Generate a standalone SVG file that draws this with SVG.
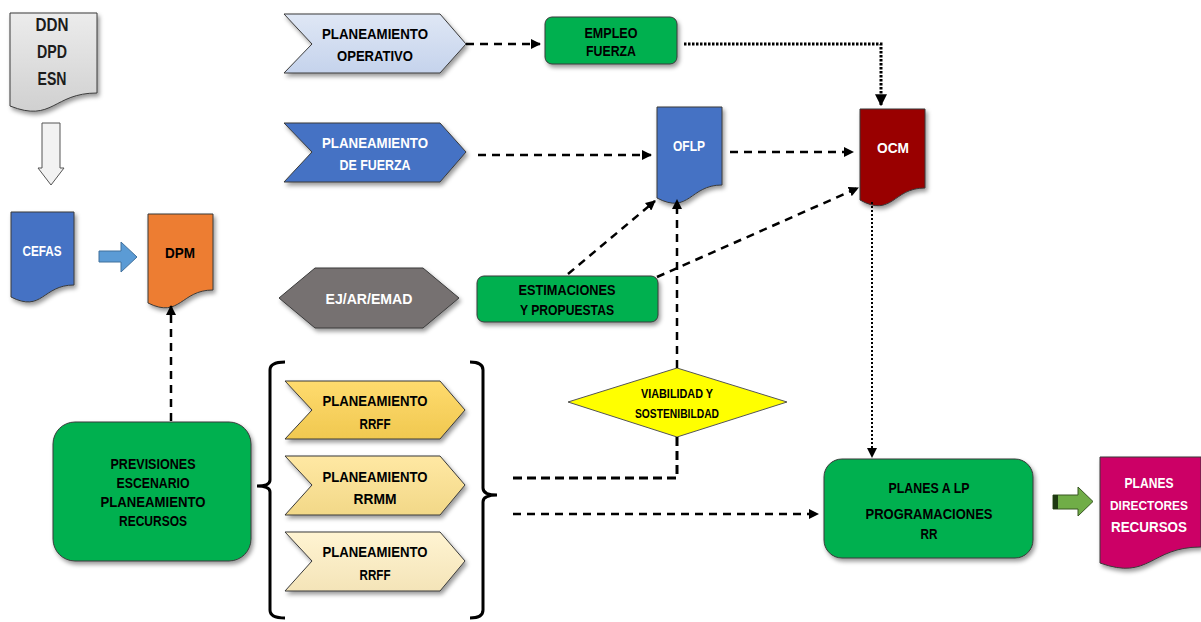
<svg xmlns="http://www.w3.org/2000/svg" width="1201" height="622" viewBox="0 0 1201 622">
<defs>
<filter id="sh" x="-15%" y="-15%" width="135%" height="140%"><feDropShadow dx="2" dy="3" stdDeviation="2" flood-color="#000" flood-opacity="0.4"/></filter>
<marker id="ah" viewBox="0 0 10 10" refX="9" refY="5" markerWidth="4" markerHeight="4" orient="auto" markerUnits="strokeWidth"><path d="M0,0 L10,5 L0,10 z" fill="#000"/></marker>
<marker id="ahs" viewBox="0 0 10 10" refX="9" refY="5" markerWidth="5" markerHeight="5" orient="auto" markerUnits="strokeWidth"><path d="M0,0 L10,5 L0,10 z" fill="#000"/></marker>
<linearGradient id="gGrey" x1="0" y1="0" x2="0" y2="1"><stop offset="0" stop-color="#ececec"/><stop offset="1" stop-color="#d0d0d0"/></linearGradient>
<linearGradient id="gOp" x1="0" y1="0" x2="0" y2="1"><stop offset="0" stop-color="#dfe7f5"/><stop offset="1" stop-color="#c5d3ec"/></linearGradient>
<linearGradient id="g1" x1="0" y1="0" x2="0" y2="1"><stop offset="0" stop-color="#ffdb6e"/><stop offset="1" stop-color="#f0c850"/></linearGradient>
<linearGradient id="g2" x1="0" y1="0" x2="0" y2="1"><stop offset="0" stop-color="#ffe8a3"/><stop offset="1" stop-color="#f2d888"/></linearGradient>
<linearGradient id="g3" x1="0" y1="0" x2="0" y2="1"><stop offset="0" stop-color="#fff4d2"/><stop offset="1" stop-color="#f4e4b8"/></linearGradient>
</defs>
<style>
text{font-family:"Liberation Sans",Arial,sans-serif;font-weight:bold;font-size:15.5px;text-anchor:middle}
.w{fill:#fff}
.k{fill:#000}
.sh{filter:url(#sh)}
.ol{stroke:#3a3a3a;stroke-width:1}
.dash{fill:none;stroke:#000;stroke-width:2.5;stroke-dasharray:8 6}
.dot{fill:none;stroke:#000;stroke-width:3;stroke-dasharray:2.5 1.5}
.dot2{fill:none;stroke:#000;stroke-width:2;stroke-dasharray:2 2}
.green{fill:#00b050}
.blue{fill:#4472c4}
</style>

<g id="ddn">
<path class="sh ol" fill="url(#gGrey)" d="M10,13 H97 V93 C53,93 53,123 10,106 Z"/>
<text x="52" y="31" style="font-size:17.5px" fill="#1c1c1c" textLength="33" lengthAdjust="spacingAndGlyphs">DDN</text>
<text x="52" y="58" style="font-size:17.5px" fill="#1c1c1c" textLength="30" lengthAdjust="spacingAndGlyphs">DPD</text>
<text x="52" y="85" style="font-size:17.5px" fill="#1c1c1c" textLength="29" lengthAdjust="spacingAndGlyphs">ESN</text>
</g>

<g id="arrow-down">
<polygon points="42,123 60,123 60,168 64,168 51,185 38,168 42,168" fill="#f2f2f2" stroke="#555" stroke-width="1"/>
</g>

<g id="cefas">
<path class="sh ol blue" d="M11,212 H74 V285 C42.5,285 42.5,313 11,297 Z"/>
<text class="w" x="42" y="256" textLength="39" lengthAdjust="spacingAndGlyphs">CEFAS</text>
</g>

<g id="arrow-blue">
<polygon points="99,251 121,251 121,242 137,257 121,272 121,262 99,262" fill="#5b9bd5" stroke="#41719c" stroke-width="1"/>
</g>

<g id="dpm">
<path class="sh ol" fill="#ed7d31" d="M148,214 H213 V290 C180.5,290 180.5,319 148,303 Z"/>
<text class="k" x="180" y="258" textLength="30" lengthAdjust="spacingAndGlyphs">DPM</text>
</g>

<g id="plan-operativo">
<polygon class="sh ol" fill="url(#gOp)" points="284,14 440,14 466,44 440,73 284,73 312,44"/>
<text class="k" x="375" y="39" textLength="106" lengthAdjust="spacingAndGlyphs">PLANEAMIENTO</text>
<text class="k" x="375" y="61" textLength="76" lengthAdjust="spacingAndGlyphs">OPERATIVO</text>
</g>

<g id="empleo-fuerza">
<rect class="sh ol green" x="545" y="17" width="132" height="47" rx="7"/>
<text class="k" x="611" y="38" textLength="53" lengthAdjust="spacingAndGlyphs">EMPLEO</text>
<text class="k" x="611" y="56" textLength="50" lengthAdjust="spacingAndGlyphs">FUERZA</text>
</g>

<g id="plan-fuerza">
<polygon class="sh ol blue" points="284,123 440,123 466,152 440,182 284,182 312,152"/>
<text class="w" x="375" y="148" textLength="106" lengthAdjust="spacingAndGlyphs">PLANEAMIENTO</text>
<text class="w" x="375" y="170" textLength="71" lengthAdjust="spacingAndGlyphs">DE FUERZA</text>
</g>

<g id="oflp">
<path class="sh ol blue" d="M657,107 H722 V185 C689.5,185 689.5,215 657,198 Z"/>
<text class="w" x="689" y="151" textLength="32" lengthAdjust="spacingAndGlyphs">OFLP</text>
</g>

<g id="ocm">
<path class="sh ol" fill="#990000" d="M860,109 H925 V188 C892.5,188 892.5,218 860,200 Z"/>
<text class="w" x="893" y="153" textLength="32" lengthAdjust="spacingAndGlyphs">OCM</text>
</g>

<g id="ej-ar-emad">
<polygon class="sh ol" fill="#767171" points="279,298 315,268 423,268 459,298 423,328 315,328"/>
<text class="w" x="369" y="304" textLength="87" lengthAdjust="spacingAndGlyphs">EJ/AR/EMAD</text>
</g>

<g id="estimaciones">
<rect class="sh ol green" x="477" y="276" width="181" height="46" rx="7"/>
<text class="k" x="567" y="295" textLength="97" lengthAdjust="spacingAndGlyphs">ESTIMACIONES</text>
<text class="k" x="567" y="315" textLength="94" lengthAdjust="spacingAndGlyphs">Y PROPUESTAS</text>
</g>

<g id="viabilidad">
<polygon fill="#ffff00" stroke="#555" stroke-width="1" points="677,368 787,402 677,437 568,402"/>
<text class="k" x="677" y="398" style="font-size:13px" textLength="72" lengthAdjust="spacingAndGlyphs">VIABILIDAD Y</text>
<text class="k" x="677" y="418" style="font-size:13px" textLength="84" lengthAdjust="spacingAndGlyphs">SOSTENIBILDAD</text>
</g>

<g id="previsiones">
<rect class="sh ol green" x="53" y="422" width="198" height="139" rx="22"/>
<text class="k" x="153" y="469" textLength="85" lengthAdjust="spacingAndGlyphs">PREVISIONES</text>
<text class="k" x="153" y="488" textLength="73" lengthAdjust="spacingAndGlyphs">ESCENARIO</text>
<text class="k" x="153" y="507" textLength="105" lengthAdjust="spacingAndGlyphs">PLANEAMIENTO</text>
<text class="k" x="153" y="526" textLength="68" lengthAdjust="spacingAndGlyphs">RECURSOS</text>
</g>

<g id="brackets">
<path d="M285,362 Q270,362 270,370 L270,480 Q270,486 257,486 Q270,486 270,492 L270,610 Q270,618 285,618" fill="none" stroke="#000" stroke-width="3"/>
<path d="M470,362 Q483,362 483,370 L483,488 Q483,495 497,495 Q483,495 483,502 L483,610 Q483,618 470,618" fill="none" stroke="#000" stroke-width="3"/>
</g>

<g id="plan-rrff-1">
<polygon class="sh ol" fill="url(#g1)" points="285,381 440,381 465,410 440,439 285,439 312,410"/>
<text class="k" x="375" y="406" textLength="105" lengthAdjust="spacingAndGlyphs">PLANEAMIENTO</text>
<text class="k" x="375" y="429" textLength="31" lengthAdjust="spacingAndGlyphs">RRFF</text>
</g>

<g id="plan-rrmm">
<polygon class="sh ol" fill="url(#g2)" points="285,456 440,456 465,485 440,515 285,515 312,485"/>
<text class="k" x="375" y="482" textLength="105" lengthAdjust="spacingAndGlyphs">PLANEAMIENTO</text>
<text class="k" x="375" y="504" textLength="43" lengthAdjust="spacingAndGlyphs">RRMM</text>
</g>

<g id="plan-rrff-2">
<polygon class="sh ol" fill="url(#g3)" points="285,532 440,532 465,561 440,591 285,591 312,561"/>
<text class="k" x="375" y="557" textLength="105" lengthAdjust="spacingAndGlyphs">PLANEAMIENTO</text>
<text class="k" x="375" y="580" textLength="31" lengthAdjust="spacingAndGlyphs">RRFF</text>
</g>

<g id="planes-lp">
<rect class="sh ol green" x="824" y="459" width="209" height="99" rx="18"/>
<text class="k" x="929" y="493" textLength="81" lengthAdjust="spacingAndGlyphs">PLANES A LP</text>
<text class="k" x="929" y="519" textLength="127" lengthAdjust="spacingAndGlyphs">PROGRAMACIONES</text>
<text class="k" x="929" y="539" textLength="17" lengthAdjust="spacingAndGlyphs">RR</text>
</g>

<g id="arrow-green">
<polygon points="1053,495 1078,495 1078,487 1093,501.5 1078,516 1078,509 1053,509" fill="#70ad47" stroke="#385723" stroke-width="1"/>
<rect x="1053" y="495" width="5" height="14" fill="#1e3a12"/>
</g>

<g id="planes-directores">
<path class="sh ol" fill="#cc0066" d="M1100,457 H1201 V547 C1150,547 1150,581 1100,563 Z"/>
<text class="w" x="1149" y="488" style="font-size:14px" textLength="49" lengthAdjust="spacingAndGlyphs">PLANES</text>
<text class="w" x="1149" y="510" style="font-size:14px;font-size:13.5px" textLength="78" lengthAdjust="spacingAndGlyphs">DIRECTORES</text>
<text class="w" x="1149" y="532" style="font-size:14px" textLength="76" lengthAdjust="spacingAndGlyphs">RECURSOS</text>
</g>

<g id="connectors">
<path class="dash" d="M466,44 H540" marker-end="url(#ah)"/>
<path class="dash" d="M478,155 H651" marker-end="url(#ah)"/>
<path class="dash" d="M730,152 H853" marker-end="url(#ah)"/>
<path class="dot" d="M684,44 H881 V105" marker-end="url(#ah)"/>
<path class="dot2" d="M872,202 V457" marker-end="url(#ahs)"/>
<path class="dash" d="M568,274 L655,201" marker-end="url(#ah)"/>
<path class="dash" d="M657,277 L858,188" marker-end="url(#ah)"/>
<path class="dash" d="M677,368 V200" marker-end="url(#ah)"/>
<path d="M513,478 H677 V437" fill="none" stroke="#000" stroke-width="3" stroke-dasharray="9 5"/>
<path class="dash" d="M513,514 H818" marker-end="url(#ah)"/>
<path class="dash" d="M171,421 V306" marker-end="url(#ah)"/>
</g>
</svg>
